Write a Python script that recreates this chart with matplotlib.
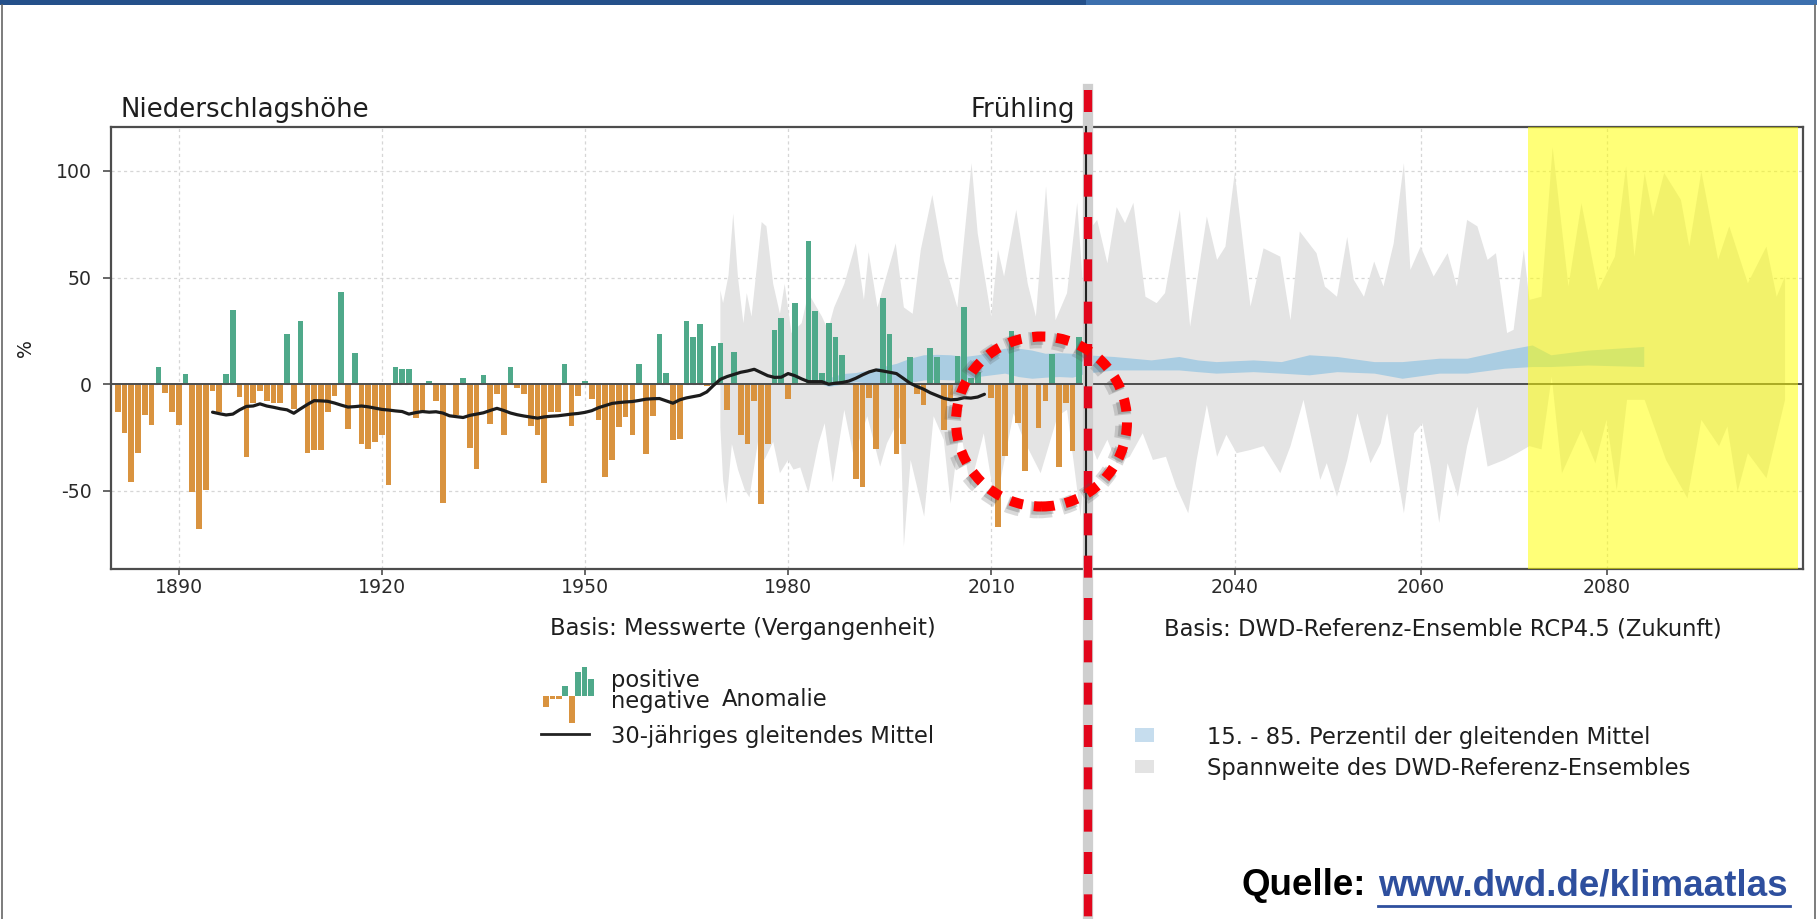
import matplotlib
matplotlib.use("Agg")
import matplotlib.pyplot as plt
import matplotlib.patheffects as pe
from matplotlib.lines import Line2D
from matplotlib.patches import Rectangle, Ellipse
import numpy as np

# ---------------------------------------------------------------- data
# spring precipitation anomaly (% relative to reference), 1881-2023
anomaly_years = list(range(1881, 2024))
anomaly = [
    -13, -23, -46, -32, -14.5, -19, 8, -4, -13, -19,            # 1881-1890
    5, -50.5, -68, -49.5, -3, -13, 5, 35, -6, -34,              # 1891-1900
    -9, -3, -8, -8.7, -8.7, 23.5, -11.5, 29.5, -32, -31,        # 1901-1910
    -31, -13, -5.3, 43, -21, 14.5, -28, -30.5, -27, -24,        # 1911-1920
    -47, 8, 7, 7, -16, -13.5, 1.3, -8, -55.5, -0.5,             # 1921-1930
    -14.5, 3, -29.7, -39.7, 4.4, -18.8, -4.7, -24, 8, -2,       # 1931-1940
    -4.5, -19.5, -23.7, -46.4, -13, -13, 9.5, -19.5, -5.3, 1.3, # 1941-1950
    -7, -17, -43.7, -35.5, -20, -15.5, -23.7, 9.4, -32.8, -14.7,  # 1951-1960
    23.7, 5.2, -26, -25.6, 29.4, 22, 28, -1, 17.7, 19.5,        # 1961-1970
    -12, 15.3, -23.7, -28, -7.8, -56.2, -28, 25.5, 31.2, -6.9,  # 1971-1980
    38, 0.5, 67, 34.5, 5.3, 28.6, 22, 13.5, 0.5, -44.5,         # 1981-1990
    -48, -6.3, -30.3, 40.5, 23.7, -32.8, -28, 12.8, -4.5, -9.7, # 1991-2000
    17, 12.8, -21.4, -6.6, 13.4, 36.4, 3, 5.5, 0.5, -6.6,       # 2001-2010
    -67, -33.6, 25, -18, -40.6, 0.5, -20.3, -7.7, 14.4, -38.6,  # 2011-2020
    -8.6, -31.2, 22,                                            # 2021-2023
]

# 30-year running mean
ma_years = list(range(1895, 2010))
ma_values = [
    -13.1, -13.8, -14.4, -14.0, -12.0, -10.4, -10.2, -9.2, -10.2, -10.8,
    -11.5, -12.0, -13.6, -11.5, -9.5, -7.7, -7.8, -8.0, -8.8, -9.8,
    -10.7, -10.5, -10.2, -10.6, -11.2, -11.8, -12.1, -12.5, -12.8, -14.0,
    -13.3, -12.8, -13.1, -12.9, -13.5, -14.8, -15.2, -15.6, -14.6, -14.0,
    -13.4, -12.3, -11.3, -12.3, -13.5, -14.3, -14.9, -15.4, -15.9, -15.3,
    -15.0, -14.8, -14.4, -14.0, -13.7, -13.2, -12.4, -11.0, -10.0, -9.0,
    -8.6, -8.3, -8.1, -7.6, -7.0, -6.8, -6.7, -7.8, -8.9, -7.3,
    -6.4, -5.8, -5.2, -3.6, -0.5, 2.3, 3.6, 4.6, 5.6, 6.2,
    7.0, 5.5, 4.0, 3.2, 3.3, 5.0, 4.0, 2.5, 1.2, 1.2,
    1.2, 0.0, 0.5, 0.8, 1.5, 2.8, 4.4, 5.8, 6.7, 6.2,
    5.6, 5.0, 2.8, 0.5, -1.0, -2.3, -4.0, -5.3, -6.6, -7.3,
    -7.1, -6.3, -6.5, -6.0, -4.7,
]

# range of the DWD reference ensemble: upper envelope
ens_top_years = [
    1970.0, 1970.4, 1971.2, 1971.9, 1972.6, 1973.4, 1973.9, 1974.6, 1976.1, 1976.8,
    1977.8, 1978.8, 1979.5, 1980.5, 1982.0, 1983.0, 1985.0, 1985.9, 1986.8, 1988.3,
    1990.0, 1991.2, 1991.9, 1993.2, 1995.9, 1997.1, 1998.4, 1999.6, 2001.3, 2003.0,
    2005.0, 2007.1, 2008.0, 2010.0, 2011.0, 2011.9, 2013.7, 2015.4, 2016.6, 2018.1,
    2019.5, 2021.2, 2022.7, 2023.6, 2024.1, 2025.2, 2026.3, 2027.3, 2028.2, 2029.1,
    2030.4, 2031.6, 2032.5, 2034.1, 2035.2, 2037.0, 2038.1, 2039.0, 2040.0, 2041.7,
    2043.1, 2044.9, 2046.0, 2047.0, 2048.8, 2049.7, 2051.0, 2052.1, 2052.8, 2053.9,
    2055.0, 2056.0, 2057.1, 2058.2, 2058.9, 2060.0, 2061.4, 2062.9, 2063.9, 2065.0,
    2066.1, 2067.2, 2068.1, 2069.3, 2070.0, 2071.1, 2071.7, 2073.0, 2074.2, 2075.9,
    2077.3, 2079.1, 2080.9, 2082.1, 2083.0, 2084.1, 2085.0, 2086.2, 2088.0, 2088.9,
    2090.2, 2092.0, 2093.2, 2095.2, 2097.2, 2098.3, 2099.2,
]
ens_top = [
    44, 38, 51, 80, 50, 28.6, 42.7, 31.7, 76, 74,
    47, 33, 47, 24, 28.6, 42.7, 31.7, 25.5, 36, 47,
    66, 39.5, 62, 36, 66, 36, 33, 63, 88.7, 58,
    36, 103.6, 70.8, 31.7, 63, 50.5, 81.7, 47, 31.7, 92.7,
    30, 42.7, 85, 44, 70.8, 77, 56.7, 83, 75.5, 85,
    41, 38, 42.7, 81.7, 27, 78.6, 58.3, 64.5, 99, 36.4,
    63.7, 59.8, 30, 71.6, 61.4, 45.8, 41, 69, 49, 41,
    57.5, 45.8, 66, 103.6, 53.6, 64.5, 50.5, 61.4, 45.8, 77,
    74, 58.3, 61.4, 24, 25.5, 63, 39.5, 41, 111, 45.8,
    84.8, 44, 59.8, 102, 59.8, 99, 78.6, 99, 86.4, 64.5,
    99.7, 58.3, 74, 47.3, 64.5, 41, 50.5,
]

# range of the DWD reference ensemble: lower envelope
ens_bottom_years = [
    1970.0, 1970.4, 1970.9, 1971.7, 1972.6, 1973.6, 1974.3, 1975.6, 1976.5, 1977.8,
    1978.8, 1980.0, 1980.8, 1981.8, 1983.0, 1984.5, 1985.4, 1986.6, 1988.3, 1989.7,
    1991.7, 1993.6, 1994.6, 1996.6, 1997.1, 1998.1, 2000.1, 2001.5, 2003.0, 2004.0,
    2005.4, 2006.9, 2008.9, 2010.4, 2011.3, 2013.3, 2014.8, 2017.3, 2019.8, 2021.2,
    2023.2, 2024.1, 2025.2, 2026.3, 2027.3, 2028.7, 2030.1, 2031.2, 2032.6, 2033.7,
    2035.0, 2035.9, 2037.0, 2038.1, 2039.1, 2040.2, 2041.7, 2043.1, 2044.9, 2046.0,
    2047.4, 2049.2, 2049.9, 2051.0, 2052.1, 2053.2, 2054.6, 2055.7, 2056.4, 2057.1,
    2058.2, 2059.3, 2060.2, 2061.1, 2062.0, 2062.9, 2064.0, 2065.0, 2066.1, 2067.2,
    2069.0, 2070.4, 2071.7, 2073.0, 2074.1, 2075.2, 2077.3, 2078.8, 2080.0, 2081.1,
    2082.2, 2084.1, 2086.4, 2088.7, 2090.2, 2092.1, 2093.0, 2094.1, 2095.2, 2097.2,
    2099.2,
]
ens_bottom = [
    -20, -45, -56, -28, -40, -49.5, -53, -26, -35.5, -27,
    -41.7, -35.5, -40, -39, -51, -27.7, -18.3, -46, -12, -34,
    -15, -38.6, -27.7, -15, -76, -35.5, -62, -15, -26, -56,
    -20, -48, -23, -52.7, -46.4, -13.6, -26, -41.7, -15, -12,
    -62, -23, -35.5, -26, -37, -34, -23, -35.5, -34, -48,
    -60.5, -35.5, -9.7, -34, -23.7, -32.3, -30.8, -29, -41.7, -29,
    -7.3, -44.8, -37, -52.7, -35.5, -13.6, -37, -27.7, -13.6, -32.3,
    -60.5, -23, -18.3, -38.6, -65, -37, -52.7, -29, -10.5, -38.6,
    -35.5, -32.3, -29, -30.5, 3.6, -41.7, -21.4, -37, -16.7, -49.5,
    -7.3, -7.3, -35.5, -53.4, -16.7, -29, -19.8, -50.3, -32.3, -44,
    -7.3,
]

# 15th - 85th percentile of the ensemble running means
pct_years = [1985, 1986, 1988, 1990, 1992, 1994, 1996, 1998, 2000, 2002,
             2004, 2006, 2008, 2010, 2012, 2014, 2016, 2018, 2020, 2022,
             2024, 2027, 2031, 2034, 2036, 2038, 2042, 2045, 2048, 2051,
             2055, 2058, 2062, 2065, 2069, 2072, 2074, 2078, 2084]
pct_low = [0, -1, 0, 1.2, 0.5, 0.5, 0.5, 0.8, 2, 2.3,
           2, 2, 3.6, 4.4, 5.2, 3.6, 2.8, 3.3, 3.6, 3.3,
           5.2, 6.7, 6.7, 6.7, 5.9, 5.2, 5.9, 5.2, 4.4, 5.9,
           5.2, 2.8, 5.2, 5.2, 7.5, 8.3, 8.3, 9, 8.3]
pct_high = [1.5, 3, 5, 5.5, 6.7, 8.3, 9.8, 12.2, 13.8, 14,
            13.8, 13, 13.8, 15.3, 16.9, 16.9, 16, 14.5, 14.8, 14.5,
            13.8, 13, 11.4, 13, 11.4, 10.6, 11.4, 10.6, 13.8, 13,
            10.6, 10.6, 12.2, 12.2, 16, 18.4, 13.8, 16, 17.7]

past_ticks = [1890, 1920, 1950, 1980, 2010]
future_ticks = [2040, 2060, 2080]
y_ticks = [-50, 0, 50, 100]
y_tick_labels = ["-50", "0", "50", "100"]

# small bar glyph used as legend key for the anomalies
legend_glyph = [-11, -3, -3, 10, -27, 24, 29, 17]

# ---------------------------------------------------------------- styling
W, H = 1817, 919
ORANGE = "#D9933F"
GREEN = "#4FA98A"
GREY_BAND = "#E4E4E4"
BLUE_BAND = "#AACDE2"
TEXT = "#1E1E1E"
FRAME = "#4D4D4D"


def fx(px):
    return px / W


def fy(py):
    return 1 - py / H


fig = plt.figure(figsize=(W / 100, H / 100), dpi=100)
fig.patch.set_facecolor("white")

ax_top, ax_bottom = 126.7, 569
x_split = 1086
axL = fig.add_axes([fx(111), fy(ax_bottom), (x_split - 111) / W, (ax_bottom - ax_top) / H])
axR = fig.add_axes([fx(x_split), fy(ax_bottom), (1802.7 - x_split) / W, (ax_bottom - ax_top) / H],
                   sharey=axL)

axL.set_xlim(1880, 2024)
axR.set_xlim(2024, 2101.1)
axL.set_ylim(-86.6, 120.7)

ens_x = ens_top_years + ens_bottom_years[::-1]
ens_y = ens_top + ens_bottom[::-1]

for ax in (axL, axR):
    ax.set_facecolor("white")
    ax.set_axisbelow(True)
    ax.grid(True, color="#D6D6D6", linestyle=(0, (2.5, 2.5)), linewidth=0.9)
    for side in ("top", "bottom", "left", "right"):
        ax.spines[side].set_color(FRAME)
        ax.spines[side].set_linewidth(1.6)
    ax.fill(ens_x, ens_y, color=GREY_BAND, lw=0, zorder=1)
    ax.fill_between(pct_years, pct_low, pct_high, color=BLUE_BAND, lw=0, zorder=1.5)
    ax.axhline(0, color=FRAME, lw=1.4, zorder=3)
    ax.tick_params(axis="x", length=4.5, width=1.2, color=FRAME, pad=2,
                   labelsize=13.6, labelcolor="#2A2A2A")

axL.spines["right"].set_visible(False)
axR.spines["left"].set_visible(False)

axL.set_xticks(past_ticks)
axR.set_xticks(future_ticks)
axL.set_yticks(y_ticks)
axL.set_yticklabels(y_tick_labels)
axL.tick_params(axis="y", length=5.8, width=1.2, color=FRAME, pad=8,
                labelsize=13.6, labelcolor="#2A2A2A")
axR.tick_params(axis="y", left=False, labelleft=False)

bar_colors = [GREEN if v > 0 else ORANGE for v in anomaly]
axL.bar(anomaly_years, anomaly, width=0.84, color=bar_colors, lw=0, zorder=2)
axL.plot(ma_years, ma_values, color="#1C1C1C", lw=2.3, zorder=4,
         solid_capstyle="round")

# highlighted end-of-century window
axR.axvspan(2071.5, 2100.6, color="#FFFF00", alpha=0.53, lw=0, zorder=10)

# ---------------------------------------------------------------- labels
fig.text(fx(120.5), fy(116.7), "Niederschlagshöhe", fontsize=18.7, color=TEXT,
         ha="left", va="baseline")
fig.text(fx(1075.4), fy(116.7), "Frühling", fontsize=18.7, color=TEXT,
         ha="right", va="baseline")
fig.text(fx(25.5), fy(347.6), "%", fontsize=13.6, color=TEXT, rotation=90,
         ha="center", va="center")

fig.text(fx(742.7), fy(635), "Basis: Messwerte (Vergangenheit)", fontsize=16.3,
         color=TEXT, ha="center", va="baseline")
fig.text(fx(1442.6), fy(635), "Basis: DWD-Referenz-Ensemble RCP4.5 (Zukunft)",
         fontsize=16.3, color=TEXT, ha="center", va="baseline")

# legend, past part
glyph_ax = fig.add_axes([fx(543), fy(726), 51 / W, 61 / H])
glyph_ax.set_axis_off()
glyph_ax.set_xlim(-0.5, len(legend_glyph) - 0.5)
glyph_ax.set_ylim(-30.3, 30.7)
glyph_ax.bar(range(len(legend_glyph)), legend_glyph, width=0.9, lw=0,
             color=[GREEN if v > 0 else ORANGE for v in legend_glyph])
fig.text(fx(611), fy(687.3), "positive", fontsize=16.3, color=TEXT, va="baseline")
fig.text(fx(611), fy(708.3), "negative", fontsize=16.3, color=TEXT, va="baseline")
fig.text(fx(722), fy(706), "Anomalie", fontsize=16.3, color=TEXT, va="baseline")
fig.add_artist(Line2D([fx(541), fx(589)], [fy(734.3), fy(734.3)], color="#222222",
                      lw=2.0, transform=fig.transFigure))
fig.text(fx(611), fy(743.3), "30-jähriges gleitendes Mittel", fontsize=16.3,
         color=TEXT, va="baseline")

# legend, future part
fig.add_artist(Rectangle((fx(1134.6), fy(742.3)), 19.6 / W, 14 / H,
                         transform=fig.transFigure, color="#C6DDEE", lw=0))
fig.add_artist(Rectangle((fx(1134.6), fy(773.3)), 19.6 / W, 13.3 / H,
                         transform=fig.transFigure, color="#E3E3E3", lw=0))
fig.text(fx(1206.6), fy(744), "15. - 85. Perzentil der gleitenden Mittel",
         fontsize=16.3, color=TEXT, va="baseline")
fig.text(fx(1206.6), fy(775), "Spannweite des DWD-Referenz-Ensembles",
         fontsize=16.3, color=TEXT, va="baseline")

# ---------------------------------------------------------------- overlays
# shaded band behind the marker line, divider, red dashed marker
fig.add_artist(Line2D([fx(1087.6)] * 2, [fy(89), fy(H)], color="#CFCFCF", lw=7.4,
                      transform=fig.transFigure, zorder=5))
fig.add_artist(Line2D([fx(x_split)] * 2, [fy(ax_bottom), fy(ax_top)], color="#222222",
                      lw=1.5, transform=fig.transFigure, zorder=5.5))
fig.add_artist(Line2D([fx(1087.5)] * 2, [fy(90), fy(H)], color="#E2061C", lw=6,
                      linestyle=(0, (2.64, 2.44)), dash_capstyle="butt",
                      transform=fig.transFigure, zorder=6))

# dotted highlight ring
ring = Ellipse((fx(1041.5), fy(421.5)), 171 / W, 170 / H, transform=fig.transFigure,
               fill=False, edgecolor="#FF0000", lw=7.2,
               linestyle=(0, (1.3, 1.1)), capstyle="butt", zorder=8)
ring.set_path_effects([
    pe.SimpleLineShadow(offset=(-2.5, -2.5), shadow_color="#555555", alpha=0.22, linewidth=12),
    pe.SimpleLineShadow(offset=(-1.5, -1.5), shadow_color="#555555", alpha=0.28, linewidth=9),
    pe.Normal(),
])
fig.add_artist(ring)

# page frame and header strip
fig.add_artist(Rectangle((0, fy(5)), fx(x_split), 5 / H, transform=fig.transFigure,
                         color="#24508A", lw=0, zorder=9))
fig.add_artist(Rectangle((fx(x_split), fy(5)), 1 - fx(x_split), 5 / H,
                         transform=fig.transFigure, color="#3C70AE", lw=0, zorder=9))
fig.add_artist(Line2D([fx(1.5), fx(1.5)], [0, fy(5)], color="#666666", lw=1.2,
                      transform=fig.transFigure, zorder=9))
fig.add_artist(Line2D([fx(W - 2), fx(W - 2)], [0, fy(5)], color="#666666", lw=1.2,
                      transform=fig.transFigure, zorder=9))

# source line
fig.text(fx(1241.5), fy(895), "Quelle:", fontsize=26.5, fontweight="bold",
         family="Liberation Sans", color="black", va="baseline")
fig.text(fx(1377.7), fy(895), "www.dwd.de/klimaatlas", fontsize=26.5,
         fontweight="bold", family="Liberation Sans", color="#2E4F9E", va="baseline")
fig.add_artist(Line2D([fx(1377.7), fx(1790)], [fy(905.5), fy(905.5)], color="#2E4F9E",
                      lw=2.0, transform=fig.transFigure))

fig.savefig("out.png", dpi=100, facecolor="white")
